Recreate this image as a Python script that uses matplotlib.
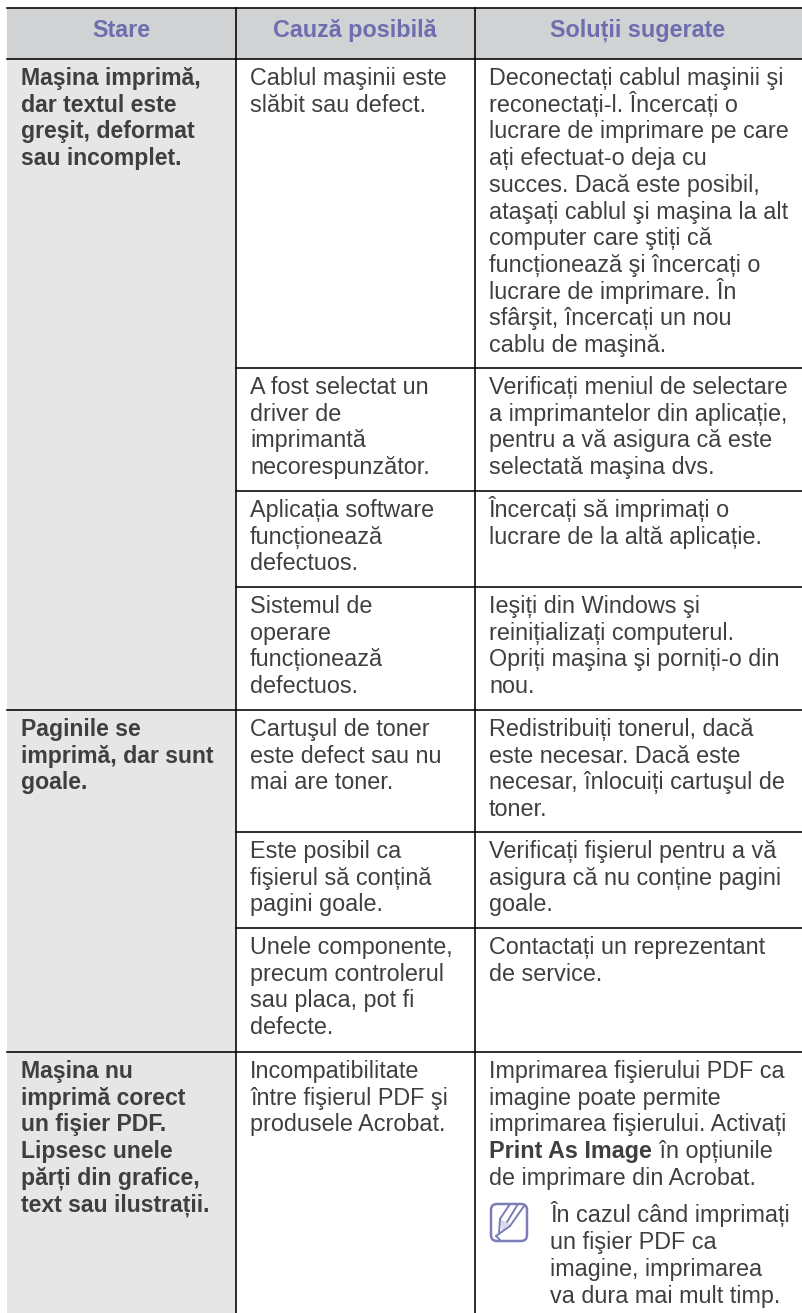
"""Troubleshooting table, redrawn as a figure"""
import matplotlib
matplotlib.use('Agg')
import matplotlib.pyplot as plt
import matplotlib.patches as patches

plt.rcParams['font.family'] = ['Liberation Sans', 'DejaVu Sans']

headers = ['Stare', 'Cauză posibilă', 'Soluții sugerate']

stare = [
    ['Maşina imprimă,', 'dar textul este', 'greşit, deformat', 'sau incomplet.'],
    ['Paginile se', 'imprimă, dar sunt', 'goale.'],
    ['Maşina nu', 'imprimă corect', 'un fişier PDF.', 'Lipsesc unele',
     'părți din grafice,', 'text sau ilustrații.'],
]

cauza = [
    ['Cablul maşinii este', 'slăbit sau defect.'],
    ['A fost selectat un', 'driver de', 'imprimantă', 'necorespunzător.'],
    ['Aplicația software', 'funcționează', 'defectuos.'],
    ['Sistemul de', 'operare', 'funcționează', 'defectuos.'],
    ['Cartuşul de toner', 'este defect sau nu', 'mai are toner.'],
    ['Este posibil ca', 'fişierul să conțină', 'pagini goale.'],
    ['Unele componente,', 'precum controlerul', 'sau placa, pot fi', 'defecte.'],
    ['Incompatibilitate', 'între fişierul PDF şi', 'produsele Acrobat.'],
]

solutii = [
    ['Deconectați cablul maşinii şi', 'reconectați-l. Încercați o',
     'lucrare de imprimare pe care', 'ați efectuat-o deja cu',
     'succes. Dacă este posibil,', 'ataşați cablul şi maşina la alt',
     'computer care ştiți că', 'funcționează şi încercați o',
     'lucrare de imprimare. În', 'sfârşit, încercați un nou', 'cablu de maşină.'],
    ['Verificați meniul de selectare', 'a imprimantelor din aplicație,',
     'pentru a vă asigura că este', 'selectată maşina dvs.'],
    ['Încercați să imprimați o', 'lucrare de la altă aplicație.'],
    ['Ieşiți din Windows şi', 'reinițializați computerul.',
     'Opriți maşina şi porniți-o din', 'nou.'],
    ['Redistribuiți tonerul, dacă', 'este necesar. Dacă este',
     'necesar, înlocuiți cartuşul de', 'toner.'],
    ['Verificați fişierul pentru a vă', 'asigura că nu conține pagini', 'goale.'],
    ['Contactați un reprezentant', 'de service.'],
    ['Imprimarea fişierului PDF ca', 'imagine poate permite',
     'imprimarea fişierului. Activați'],
]
last_bold = 'Print As Image'
last_rest = ' în opțiunile'
last_tail = 'de imprimare din Acrobat.'
nota = ['În cazul când imprimați', 'un fişier PDF ca', 'imagine, imprimarea',
        'va dura mai mult timp.']

# table grid in pixels
x_left, x_col2, x_col3, x_right = 7, 236, 475, 802
y_top, y_head = 8, 59
row_lines = [59, 368, 491, 587, 710, 832, 928, 1052, 1313]
group_tops = [59, 710, 1052]

TEXT = '#3f3f40'
PURPLE = '#6d6db0'
FS = 16.8
FS_BOLD = 16.6
LINE = 26.7

fig = plt.figure(figsize=(8.02, 13.13), dpi=100)
ax = fig.add_axes([0, 0, 1, 1])
ax.set_xlim(0, 802)
ax.set_ylim(1313, 0)
ax.axis('off')

# backgrounds
ax.add_patch(patches.Rectangle((x_left, y_top), x_right - x_left, y_head - y_top,
                               facecolor='#d1d2d4', edgecolor='none'))
ax.add_patch(patches.Rectangle((x_left, y_head), x_col2 - x_left, 1313 - y_head,
                               facecolor='#e6e6e7', edgecolor='none'))

# rules
lw = 1.15
ax.plot([x_left, x_right], [y_top, y_top], color='black', lw=lw)
ax.plot([x_left, x_right], [y_head, y_head], color='black', lw=lw)
for y in row_lines[1:-1]:
    x0 = x_left if y in group_tops else x_col2
    ax.plot([x0, x_right], [y, y], color='black', lw=lw)
for x in (x_col2, x_col3):
    ax.plot([x, x], [y_top, 1313], color='black', lw=lw)

# header
for cx, h in zip((121, 355, 638), headers):
    ax.text(cx, 37, h, ha='center', va='baseline', fontsize=FS, weight='bold',
            color=PURPLE)


def cell(x, top, lines, size=FS, **kw):
    for i, s in enumerate(lines):
        ax.text(x, top + 26 + i * LINE, s, ha='left', va='baseline', fontsize=size,
                color=TEXT, **kw)


for top, lines in zip(group_tops, stare):
    cell(21, top, lines, size=FS_BOLD, weight='bold')
for top, lines in zip(row_lines, cauza):
    cell(250, top, lines)
for top, lines in zip(row_lines, solutii):
    cell(489, top, lines)

# mixed bold line and the tail of the last cell
y_b = 1052 + 26 + 3 * LINE
t = ax.text(489, y_b, last_bold, ha='left', va='baseline', fontsize=FS,
            weight='bold', color=TEXT)
fig.canvas.draw()
bb = t.get_window_extent()
ax.text(bb.x1 + 1, y_b, last_rest, ha='left', va='baseline', fontsize=FS, color=TEXT)
ax.text(489, y_b + LINE, last_tail, ha='left', va='baseline', fontsize=FS, color=TEXT)

# note
for i, s in enumerate(nota):
    ax.text(550, 1222 + i * 27, s, ha='left', va='baseline', fontsize=FS, color=TEXT)

# note icon
ax.add_patch(patches.FancyBboxPatch((494, 1207), 30, 31,
                                    boxstyle='round,pad=3,rounding_size=6',
                                    facecolor='white', edgecolor='#7c7cb8', lw=1.8))
ax.add_patch(patches.Polygon([(500, 1219), (510, 1224), (502, 1232)],
                             facecolor='#d8d8e8', edgecolor='none'))
for seg in ([(510, 1204), (500, 1219)], [(518, 1204), (507, 1222)],
            [(524, 1206), (510, 1226)], [(500, 1219), (499, 1233)],
            [(510, 1226), (496, 1236)], [(496, 1236), (500, 1240)]):
    ax.plot(*zip(*seg), color='#7c7cb8', lw=1.4, solid_capstyle='round')

fig.savefig('out.png', dpi=100)
